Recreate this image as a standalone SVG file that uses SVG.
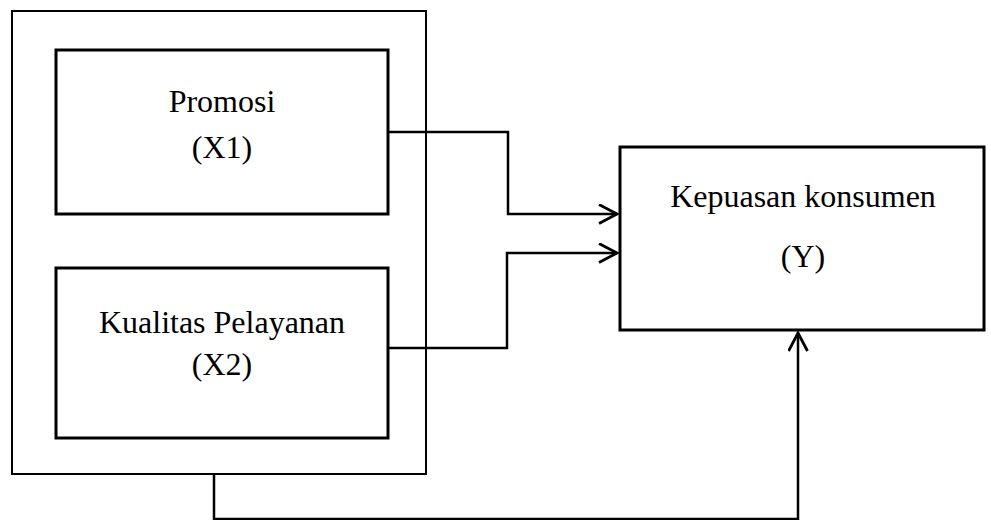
<svg xmlns="http://www.w3.org/2000/svg" width="991" height="520" viewBox="0 0 991 520">
<style>
.box{fill:none;stroke:#000;stroke-width:3}
.outer{fill:none;stroke:#000;stroke-width:2}
.conn{fill:none;stroke:#000;stroke-width:2.5}
.lbl{font-family:"Liberation Serif","Times New Roman",serif;font-size:32px;fill:#000;text-anchor:middle}
</style>
<defs>
<marker id="arr" markerWidth="24" markerHeight="24" refX="19" refY="10" orient="auto" markerUnits="userSpaceOnUse">
<path d="M1,0.5 L19,10 L1,19.5" fill="none" stroke="#000" stroke-width="2.8"/>
</marker>
</defs>
<rect width="991" height="520" fill="#fff"/>
<g id="group-x">
<rect class="outer" x="12" y="11" width="414" height="463"/>
</g>
<g id="promosi">
<rect class="box" x="56" y="50" width="332" height="164"/>
<text class="lbl" x="222" y="112">Promosi</text>
<text class="lbl" x="222" y="158">(X1)</text>
</g>
<g id="kualitas">
<rect class="box" x="56" y="268" width="332" height="170"/>
<text class="lbl" x="222" y="333">Kualitas Pelayanan</text>
<text class="lbl" x="222" y="375">(X2)</text>
</g>
<g id="kepuasan">
<rect class="box" x="620" y="147" width="364" height="183"/>
<text class="lbl" x="803" y="207">Kepuasan konsumen</text>
<text class="lbl" x="803" y="267">(Y)</text>
</g>
<g id="connectors">
<path class="conn" d="M388,132 H508 V214 H617" marker-end="url(#arr)"/>
<path class="conn" d="M388,348 H507 V253 H617" marker-end="url(#arr)"/>
<path class="conn" d="M214,474 V519 H798 V333" marker-end="url(#arr)"/>
</g>
</svg>
